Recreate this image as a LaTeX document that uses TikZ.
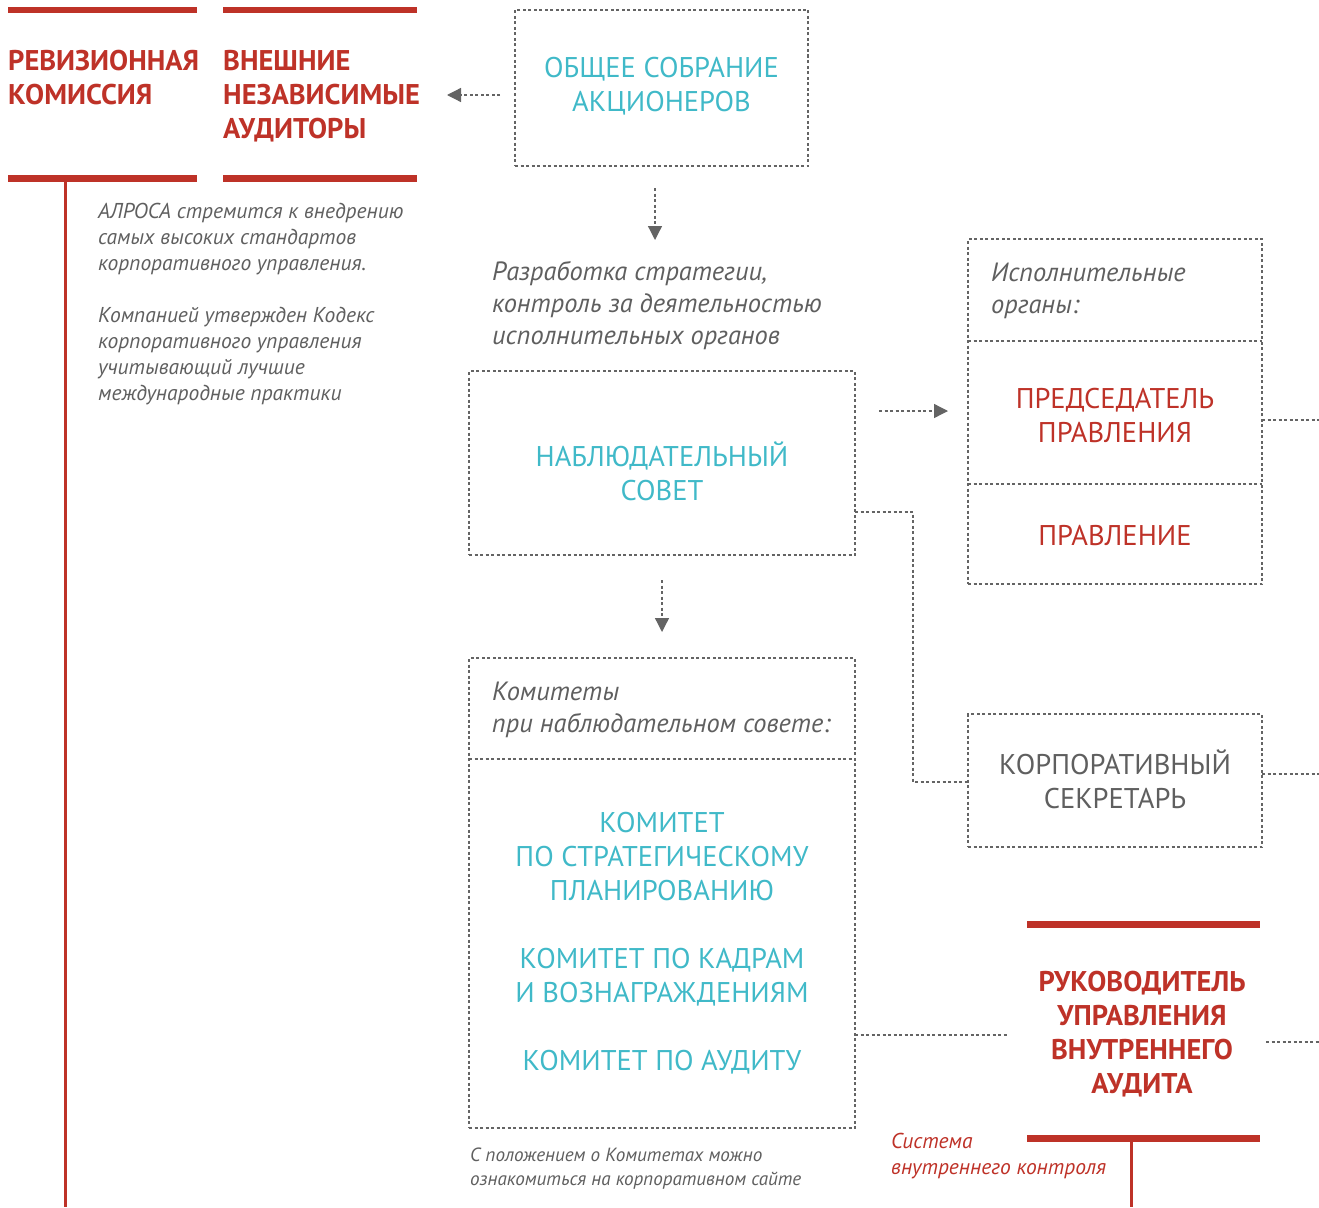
\documentclass[tikz,border=0pt]{standalone}
\usepackage{fontspec}
\setmainfont{PT Sans}
\usetikzlibrary{arrows.meta,calc}
\definecolor{acred}{RGB}{190,50,40}
\definecolor{accyan}{RGB}{64,185,200}
\definecolor{acgray}{RGB}{95,95,95}
\definecolor{acline}{RGB}{100,100,100}
\begin{document}
\begin{tikzpicture}[x=1pt,y=-1pt,
  dbox/.style={draw=acline, line width=1.3pt, dash pattern=on 3pt off 2.5pt, inner sep=0pt, outer sep=0pt},
  conn/.style={draw=acline, line width=1.3pt, dash pattern=on 3pt off 2.5pt},
  arr/.style={conn, -{Triangle[length=14pt,width=14pt]}},
  redbar/.style={draw=acred, line width=6.5pt},
  redline/.style={draw=acred, line width=3pt},
  bigtxt/.style={font=\fontsize{28.5}{34}\selectfont, align=center, inner sep=0pt, anchor=base},
  headtxt/.style={font=\bfseries\fontsize{28.5}{34}\selectfont, text=acred, align=left, inner sep=0pt, anchor=base west},
  itm/.style={font=\itshape\fontsize{26.4}{32}\selectfont, text=acgray, align=left, inner sep=0pt, anchor=base west},
  its/.style={font=\itshape\fontsize{21.5}{26}\selectfont, text=acgray, align=left, inner sep=0pt, anchor=base west},
  notetxt/.style={font=\itshape\fontsize{19.1}{24}\selectfont, text=acgray, align=left, inner sep=0pt, anchor=base west}
]
\useasboundingbox (0,0) rectangle (1319,1207);

% red headings (left); base anchor = baseline of last line
\draw[redbar] (8,10) -- (197,10);
\draw[redbar] (8,178.5) -- (197,178.5);
\draw[redbar] (223,10) -- (416.5,10);
\draw[redbar] (223,178.5) -- (416.5,178.5);
\node[headtxt] (rev) at (8,104) {РЕВИЗИОННАЯ\\КОМИССИЯ};
\node[headtxt] (ext) at (223,138) {ВНЕШНИЕ\\НЕЗАВИСИМЫЕ\\АУДИТОРЫ};
\coordinate (revtop) at (65,181);
\coordinate (revbot) at (65,1207);
\draw[redline] (revtop) -- (revbot);

\node[its] (intro) at (98,400) {АЛРОСА стремится к внедрению\\самых высоких стандартов\\корпоративного управления.\\[26pt]Компанией утвержден Кодекс\\корпоративного управления\\учитывающий лучшие\\международные практики};

% General meeting
\node[dbox, minimum width=293pt, minimum height=156pt] (obsh) at (661.5,88) {};
\node[bigtxt, text=accyan] (obshtxt) at (661.5,111) {ОБЩЕЕ СОБРАНИЕ\\АКЦИОНЕРОВ};
\coordinate (a1s) at (500,95);
\coordinate (a1e) at (447,95);
\draw[arr] (a1s) -- (a1e);
\coordinate (a2s) at (655,188);
\coordinate (a2e) at (655,240);
\draw[arr] (a2s) -- (a2e);

\node[itm] (strat) at (492,344) {Разработка стратегии,\\контроль за деятельностью\\исполнительных органов};

% Supervisory board
\node[dbox, minimum width=386pt, minimum height=184pt] (nabl) at (662,463) {};
\node[bigtxt, text=accyan] (nabltxt) at (662,500) {НАБЛЮДАТЕЛЬНЫЙ\\СОВЕТ};
\coordinate (a3s) at (879,411);
\coordinate (a3e) at (948,411);
\draw[arr] (a3s) -- (a3e);
\coordinate (a4s) at (662,580);
\coordinate (a4e) at (662,632);
\draw[arr] (a4s) -- (a4e);

% Executive bodies
\node[dbox, minimum width=294pt, minimum height=345pt] (exec) at (1115,411.5) {};
\draw[conn] ($(exec.north west)+(0,102)$) -- ($(exec.north east)+(0,102)$);
\draw[conn] ($(exec.north west)+(0,245)$) -- ($(exec.north east)+(0,245)$);
\node[itm] (exectitle) at (991,313) {Исполнительные\\органы:};
\node[bigtxt, text=acred] (pred) at (1115,442) {ПРЕДСЕДАТЕЛЬ\\ПРАВЛЕНИЯ};
\node[bigtxt, text=acred] (prav) at (1115,545) {ПРАВЛЕНИЕ};
\coordinate (execr) at (1262,420);
\coordinate (execout) at (1319,420);
\draw[conn] (execr) -- (execout);

% Corporate secretary
\node[dbox, minimum width=294pt, minimum height=133pt] (sec) at (1115,780.5) {};
\node[bigtxt, text=acgray] (sectxt) at (1115,808) {КОРПОРАТИВНЫЙ\\СЕКРЕТАРЬ};
\coordinate (c1) at (855,512);
\coordinate (c2) at (913,512);
\coordinate (c3) at (913,782);
\coordinate (c4) at (968,782);
\draw[conn] (c1) -- (c2) -- (c3) -- (c4);
\coordinate (secr) at (1262,774);
\coordinate (secout) at (1319,774);
\draw[conn] (secr) -- (secout);

% Committees
\node[dbox, minimum width=386pt, minimum height=470pt] (kom) at (662,893) {};
\draw[conn] ($(kom.north west)+(0,101)$) -- ($(kom.north east)+(0,101)$);
\node[itm] (komtitle) at (492,732) {Комитеты\\при наблюдательном совете:};
\node[bigtxt, text=accyan] (komtxt) at (662,1070) {КОМИТЕТ\\ПО СТРАТЕГИЧЕСКОМУ\\ПЛАНИРОВАНИЮ\\[34pt]КОМИТЕТ ПО КАДРАМ\\И ВОЗНАГРАЖДЕНИЯМ\\[34pt]КОМИТЕТ ПО АУДИТУ};
\node[notetxt] (note) at (470,1185) {С положением о Комитетах можно\\ознакомиться на корпоративном сайте};
\coordinate (k1) at (855,1035);
\coordinate (k2) at (1008,1035);
\draw[conn] (k1) -- (k2);

% Internal audit
\draw[redbar] (1027,924.5) -- (1260,924.5);
\draw[redbar] (1027,1138.3) -- (1260,1138.3);
\node[bigtxt, font=\bfseries\fontsize{28.5}{34}\selectfont, text=acred] (audit) at (1142,1093) {РУКОВОДИТЕЛЬ\\УПРАВЛЕНИЯ\\ВНУТРЕННЕГО\\АУДИТА};
\coordinate (audtop) at (1131.5,1141);
\coordinate (audbot) at (1131.5,1207);
\draw[redline] (audtop) -- (audbot);
\coordinate (audr) at (1266,1042);
\coordinate (audout) at (1319,1042);
\draw[conn] (audr) -- (audout);
\node[its, text=acred] (ivk) at (891,1174) {Система\\внутреннего контроля};
\end{tikzpicture}
\end{document}
